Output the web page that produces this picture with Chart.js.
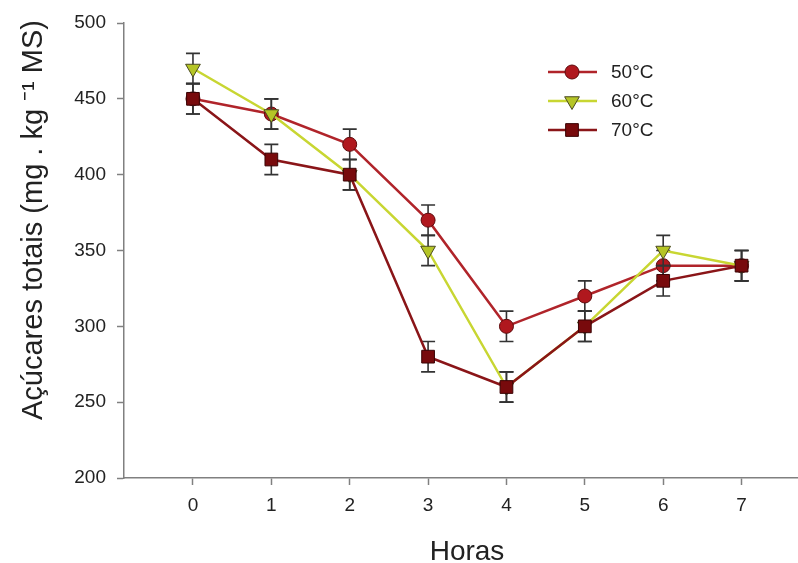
<!DOCTYPE html>
<html>
<head>
<meta charset="utf-8">
<script src="https://cdn.jsdelivr.net/npm/chart.js@4.4.0/dist/chart.umd.min.js"></script>
<style>
html,body{margin:0;padding:0;background:#fff;}
#wrap{width:798px;height:563px;position:relative;}
</style>
</head>
<body>
<div id="wrap"><canvas id="c" width="798" height="563"></canvas></div>
<script>
const hours = [0, 1, 2, 3, 4, 5, 6, 7];
const seriesLabels = ['50°C', '60°C', '70°C'];
const s50 = [450, 440, 420, 370, 300, 320, 340, 340];
const s60 = [470, 440, 400, 350, 260, 300, 350, 340];
const s70 = [450, 410, 400, 280, 260, 300, 330, 340];
const e50 = [10, 10, 10, 10, 10, 10, 10, 10];
const e60 = [10, 10, 10, 10, 10, 10, 10, 10];
const e70 = [10, 10, 10, 10, 10, 10, 10, 10];
const yTicks = [200, 250, 300, 350, 400, 450, 500];
const xTicks = [0, 1, 2, 3, 4, 5, 6, 7];
const xTitle = 'Horas';
const yTitle = 'Açúcares totais (mg . kg ⁻¹ MS)';

const FONT = "'Liberation Sans', Arial, Helvetica, sans-serif";
const toXY = (arr) => arr.map((v, i) => ({x: hours[i], y: v}));
const errs = [e50, e60, e70];

const errorBars = {
  id: 'errorBars',
  beforeDatasetDraw(chart, args) {
    const ctx = chart.ctx;
    const ds = chart.data.datasets[args.index];
    const err = errs[args.index];
    const xs = chart.scales.x, ys = chart.scales.y;
    ctx.save();
    ctx.strokeStyle = '#333';
    ctx.lineWidth = 1.6;
    ds.data.forEach((p, i) => {
      const px = xs.getPixelForValue(p.x);
      const top = ys.getPixelForValue(p.y + err[i]);
      const bot = ys.getPixelForValue(p.y - err[i]);
      ctx.beginPath();
      ctx.moveTo(px, top); ctx.lineTo(px, bot);
      ctx.moveTo(px - 7, top); ctx.lineTo(px + 7, top);
      ctx.moveTo(px - 7, bot); ctx.lineTo(px + 7, bot);
      ctx.stroke();
    });
    ctx.restore();
  }
};

const decorations = {
  id: 'decorations',
  afterDraw(chart) {
    const ctx = chart.ctx;
    const rows = [72, 101, 130];
    chart.data.datasets.forEach((ds, i) => {
      const y = rows[i];
      ctx.save();
      ctx.strokeStyle = ds.borderColor;
      ctx.lineWidth = ds.borderWidth;
      ctx.beginPath(); ctx.moveTo(548, y); ctx.lineTo(597, y); ctx.stroke();
      ctx.fillStyle = ds.pointBackgroundColor;
      ctx.strokeStyle = ds.pointBorderColor;
      ctx.lineWidth = ds.pointBorderWidth;
      Chart.helpers.drawPoint(ctx, {
        pointStyle: ds.pointStyle, rotation: ds.pointRotation || 0,
        radius: ds.pointRadius, borderWidth: ds.pointBorderWidth
      }, 572, y);
      ctx.fillStyle = '#222';
      ctx.font = '19px ' + FONT;
      ctx.textBaseline = 'middle';
      ctx.textAlign = 'left';
      ctx.fillText(seriesLabels[i], 611, y + 1);
      ctx.restore();
    });
    // axis titles
    ctx.save();
    ctx.fillStyle = '#222';
    ctx.font = '28px ' + FONT;
    ctx.textAlign = 'center';
    ctx.textBaseline = 'alphabetic';
    ctx.fillText(xTitle, 467, 560);
    ctx.translate(42, 220);
    ctx.rotate(-Math.PI / 2);
    ctx.font = '29px ' + FONT;
    ctx.fillText(yTitle, 0, 0);
    ctx.restore();
  }
};

new Chart(document.getElementById('c'), {
  type: 'line',
  data: {
    datasets: [
      {
        label: seriesLabels[0], data: toXY(s50), order: 3,
        borderColor: '#b0242a', borderWidth: 2.5,
        pointStyle: 'circle', pointRadius: 7,
        pointBackgroundColor: '#b0181e', pointBorderColor: '#5e0a0c', pointBorderWidth: 1
      },
      {
        label: seriesLabels[1], data: toXY(s60), order: 2,
        borderColor: '#c8d632', borderWidth: 2.5,
        pointStyle: 'triangle', pointRotation: 180, pointRadius: 8.5,
        pointBackgroundColor: '#b5c526', pointBorderColor: '#4a4a20', pointBorderWidth: 1
      },
      {
        label: seriesLabels[2], data: toXY(s70), order: 1,
        borderColor: '#8a1518', borderWidth: 2.5,
        pointStyle: 'rect', pointRadius: 9,
        pointBackgroundColor: '#780a0c', pointBorderColor: '#3a0405', pointBorderWidth: 1
      }
    ]
  },
  options: {
    responsive: false,
    animation: false,
    devicePixelRatio: 1,
    layout: {autoPadding: false, padding: {top: 23, right: 0, left: 0, bottom: 0}},
    plugins: {legend: {display: false}, tooltip: {enabled: false}},
    elements: {line: {tension: 0}},
    scales: {
      x: {
        type: 'linear', min: -0.88, max: 7.72,
        afterBuildTicks: (s) => { s.ticks = xTicks.map(v => ({value: v})); },
        afterFit: (s) => { s.height = 85; },
        grid: {display: true, drawOnChartArea: false, drawTicks: true, tickLength: 7, tickColor: '#808080', tickWidth: 1.5},
        border: {display: true, color: '#808080', width: 1.5},
        ticks: {color: '#222', font: {family: FONT, size: 19}, padding: 9, maxRotation: 0},
        title: {display: false}
      },
      y: {
        type: 'linear', min: 200, max: 500,
        afterBuildTicks: (s) => { s.ticks = yTicks.map(v => ({value: v})); },
        afterFit: (s) => { s.width = 124; },
        grid: {display: true, drawOnChartArea: false, drawTicks: true, tickLength: 7, tickColor: '#808080', tickWidth: 1.5},
        border: {display: true, color: '#808080', width: 1.5},
        ticks: {color: '#222', font: {family: FONT, size: 19}, padding: 11},
        title: {display: false}
      }
    }
  },
  plugins: [errorBars, decorations]
});
</script>
</body>
</html>
